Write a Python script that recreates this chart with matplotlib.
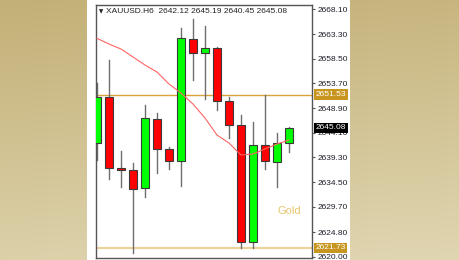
"""
XAUUSD H6 candles in a MetaTrader-like window, with MA and two levels.
"""

import matplotlib

matplotlib.use("Agg")
import matplotlib.pyplot as plt
import matplotlib.transforms as mtransforms
import numpy as np
from matplotlib.patches import FancyBboxPatch, Rectangle

# =============================================================================
# Candles
# =============================================================================
OPENS = [2642.11, 2651.05, 2637.25, 2636.86, 2633.36, 2646.77, 2640.94, 2638.61, 2662.33,
         2659.60, 2660.58, 2650.27, 2645.61, 2622.86, 2641.72, 2638.41, 2642.12]
HIGHS = [2653.77, 2658.24, 2640.55, 2638.22, 2649.50, 2647.94, 2641.33, 2664.46, 2666.21,
         2664.85, 2660.70, 2651.05, 2647.55, 2646.19, 2651.53, 2644.06, 2645.19]
LOWS = [2638.80, 2635.10, 2633.55, 2620.72, 2631.61, 2636.27, 2637.05, 2633.75, 2654.35,
        2650.66, 2648.52, 2643.08, 2621.69, 2621.73, 2637.05, 2633.55, 2640.45]
CLOSES = [2651.05, 2637.25, 2636.86, 2633.16, 2646.97, 2640.94, 2638.61, 2662.52, 2659.60,
          2660.58, 2650.27, 2645.61, 2622.86, 2641.72, 2638.61, 2642.11, 2645.08]

# Moving average at every candle
MA_VALUES = [2662.46, 2661.35, 2660.38, 2658.83, 2657.27, 2655.91, 2653.58, 2651.83, 2649.69,
             2646.97, 2643.66, 2642.11, 2639.77, 2639.97, 2640.94, 2641.91, 2642.69]

# Price axis
Y_TICKS = [2668.10, 2663.30, 2658.50, 2653.70, 2648.90, 2644.10,
           2639.30, 2634.50, 2629.70, 2624.80, 2620.00]
LEVEL_HIGH = 2651.53
LEVEL_LOW = 2621.73

SYMBOL = "XAUUSD.H6"
TITLE_OHLC = "2642.12 2645.19 2640.45 2645.08"
LAST_PRICE = "2645.08"

FONT = ["Liberation Sans Narrow", "Liberation Sans", "DejaVu Sans"]


def draw_background(fig):
    """Beige gradient behind the white chart window."""
    bg = fig.add_axes([0, 0, 1, 1], zorder=-10)
    top = np.array([195, 176, 118]) / 255
    bottom = np.array([224, 214, 178]) / 255
    t = np.linspace(0, 1, 260)[:, None, None]
    s = np.linspace(0, 1, 460)[None, :, None]
    img = top + (bottom - top) * np.clip(0.85 * t + 0.15 * s, 0, 1)
    bg.imshow(img, aspect="auto", extent=[0, 1, 0, 1])
    bg.axis("off")

    # white window, rounded on top
    win = FancyBboxPatch(
        (87, -30), 263, 295,
        boxstyle="round,pad=0,rounding_size=7",
        transform=mtransforms.IdentityTransform(),
        facecolor="white", edgecolor="none", zorder=-5,
    )
    fig.patches.append(win)


def draw_candles(ax):
    width = 0.66
    for i, (o, h, l, c) in enumerate(zip(OPENS, HIGHS, LOWS, CLOSES)):
        ax.plot([i, i], [l, h], color="#6e6e6e", linewidth=1, zorder=2)
        color = "#00ff00" if c >= o else "#ff0000"
        ax.add_patch(Rectangle(
            (i - width / 2, min(o, c)), width, max(abs(c - o), 0.25),
            facecolor=color, edgecolor="#3a3a3a", linewidth=0.8, zorder=3,
        ))


def price_label(ax, y, text, face):
    ax.annotate(
        text, xy=(1.0, y), xycoords=("axes fraction", "data"),
        xytext=(2.5, 0), textcoords="offset points",
        ha="left", va="center", fontsize=6, color="white", family=FONT,
        bbox=dict(boxstyle="square,pad=0.2", facecolor=face, edgecolor="none"),
        annotation_clip=False, zorder=6,
    )


def main():
    fig = plt.figure(figsize=(4.6, 2.6), dpi=100)
    draw_background(fig)

    ax = fig.add_axes([96 / 460, 2 / 260, 216 / 460, 253 / 260])
    ax.set_facecolor("white")
    ax.set_xlim(-0.083, 17.92)
    ax.set_ylim(2619.75, 2668.94)

    # levels
    ax.axhline(LEVEL_HIGH, color="#d9a33c", linewidth=1, zorder=1)
    ax.axhline(LEVEL_LOW, color="#ead39a", linewidth=1.6, zorder=1)

    draw_candles(ax)

    # MA
    ax.plot(range(len(MA_VALUES)), MA_VALUES, color="#ff6464", linewidth=0.8, zorder=4)

    # axes look
    for side in ["left", "right", "top", "bottom"]:
        ax.spines[side].set_color("#555555")
        ax.spines[side].set_linewidth(1)
    ax.set_xticks([])
    ax.yaxis.tick_right()
    ax.set_yticks(Y_TICKS)
    ax.set_yticklabels([f"{v:.2f}" for v in Y_TICKS], family=FONT)
    ax.tick_params(axis="y", direction="out", length=2.5, width=0.8, color="#555555",
                   labelsize=6, labelcolor="#1e1e2a", pad=1.5)

    price_label(ax, LEVEL_HIGH, f"{LEVEL_HIGH:.2f}", "#c8961e")
    price_label(ax, LEVEL_LOW, f"{LEVEL_LOW:.2f}", "#c8961e")
    price_label(ax, float(LAST_PRICE), LAST_PRICE, "#000000")

    # header
    ax.text(0.012, 0.985, "\u25bc", transform=ax.transAxes, ha="left", va="top",
            fontsize=4, color="#222222", family=["DejaVu Sans"])
    ax.text(0.045, 0.99, f"{SYMBOL}  {TITLE_OHLC}", transform=ax.transAxes,
            ha="left", va="top", fontsize=6, color="#222222", family=FONT)

    ax.text(16.0, 2628.8, "Gold", ha="center", va="center", fontsize=8,
            color="#e8c56c", family=["Liberation Sans", "DejaVu Sans"])

    fig.savefig("out.png", dpi=100)
    plt.close(fig)


if __name__ == "__main__":
    main()
